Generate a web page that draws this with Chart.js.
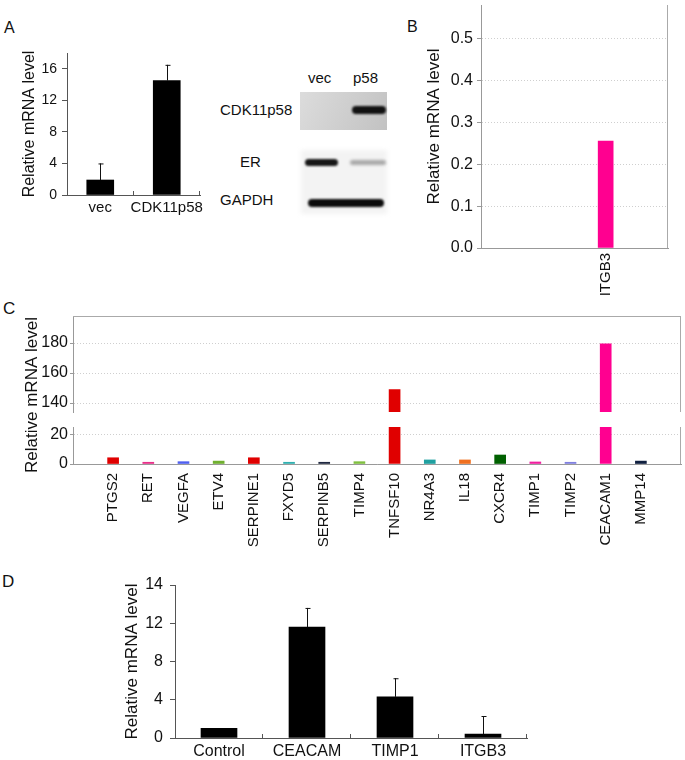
<!DOCTYPE html>
<html>
<head>
<meta charset="utf-8">
<script src="https://cdn.jsdelivr.net/npm/chart.js@4.4.1/dist/chart.umd.min.js"></script>
<style>
  body { margin: 0; background: #fff; }
  #page { position: relative; width: 685px; height: 760px; overflow: hidden;
          font-family: 'Liberation Sans', Arial, sans-serif; color: #111; }
  canvas, .t { position: absolute; }
  .t { font-size: 15px; line-height: 16px; white-space: nowrap; }
</style>
</head>
<body>
<div id="page">
  <div class="t" style="left:4px;top:20px;font-size:16px">A</div>
  <div class="t" style="left:407px;top:19px;font-size:16px">B</div>
  <div class="t" style="left:3px;top:301px;font-size:17px">C</div>
  <div class="t" style="left:2px;top:574px;font-size:17px">D</div>

  <!-- western blot labels -->
  <div class="t" style="left:308px;top:70px">vec</div>
  <div class="t" style="left:353px;top:70px">p58</div>
  <div class="t" style="left:220px;top:102px">CDK11p58</div>
  <div class="t" style="left:240px;top:154px">ER</div>
  <div class="t" style="left:220px;top:192px">GAPDH</div>

  <canvas id="chartA" width="225" height="190" style="left:0;top:40px"></canvas>
  <canvas id="blot" width="100" height="130" style="left:295px;top:88px"></canvas>
  <canvas id="chartB" width="285" height="300" style="left:400px;top:0"></canvas>
  <canvas id="chartC1" width="685" height="180" style="left:0;top:300px"></canvas>
  <canvas id="chartC2" width="685" height="140" style="left:0;top:420px"></canvas>
  <canvas id="chartD" width="460" height="190" style="left:90px;top:570px"></canvas>
</div>

<script>
// ---- data ----
// A: qPCR, vec vs CDK11p58
const A_LABELS = ['vec', 'CDK11p58'];
const A_VALUES = [1.9, 14.5];
const A_ERRORS = [2.1, 2.0];
const A_TICKS = [0, 4, 8, 12, 16];

// B: single gene
const B_LABEL = 'ITGB3';
const B_SLOT = 2;
const B_VALUE = 0.255;

// C: gene panel (broken axis)
const C_GENES = ['PTGS2', 'RET', 'VEGFA', 'ETV4', 'SERPINE1', 'FXYD5', 'SERPINB5', 'TIMP4',
                 'TNFSF10', 'NR4A3', 'IL18', 'CXCR4', 'TIMP1', 'TIMP2', 'CEACAM1', 'MMP14'];
const C_VALUES = [4.3, 1.2, 1.6, 2.0, 4.3, 1.2, 1.2, 1.6, 149, 2.8, 2.8, 6.2, 1.4, 1.2, 179.5, 2.0];
const C_COLORS = ['#e00000', '#e8308a', '#5060f0', '#70b030', '#e00000', '#30b0b0', '#202840', '#80c040',
                  '#e00000', '#20a0a0', '#f07020', '#006000', '#f020a0', '#8080e0', '#ff0090', '#102040'];
const C_UPPER_GRID = [140, 150, 160, 170, 180, 190];
const C_UPPER_TICKS = [140, 160, 180];
const C_LOWER_GRID = [0, 10, 20];
const C_LOWER_TICKS = [0, 20];

// D: validation
const D_LABELS = ['Control', 'CEACAM', 'TIMP1', 'ITGB3'];
const D_VALUES = [1.0, 11.6, 4.3, 0.4];
const D_ERRORS = [0, 2.0, 1.95, 1.9];
const D_TICK_VALUES = [0, 4, 8, 12, 16];
const D_TICK_LABELS = ['0', '4', '8', '12', '14'];

// ---- defaults ----
Chart.defaults.font.family = "'Liberation Sans', Arial, sans-serif";
Chart.defaults.color = '#111';
Chart.defaults.animation = false;
Chart.defaults.plugins.legend.display = false;
Chart.defaults.plugins.tooltip.enabled = false;

// fixed axis box, no label overhang padding
function fixW(w) {
  return s => { s.width = w; s.paddingTop = 0; s.paddingBottom = 0; };
}
function fixH(h) {
  return s => { s.height = h; s.paddingLeft = 0; s.paddingRight = 0; };
}
function tickList(vals) {
  return s => { s.ticks = vals.map(v => ({ value: v })); };
}

// ---- small plugins ----
const errorBars = {
  id: 'errorBars',
  afterDatasetsDraw(chart, args, opts) {
    const ctx = chart.ctx;
    const meta = chart.getDatasetMeta(0);
    const data = chart.data.datasets[0].data;
    const y = chart.scales.y;
    ctx.save();
    ctx.strokeStyle = '#111';
    ctx.lineWidth = 1;
    (opts.errors || []).forEach((e, i) => {
      if (!e) return;
      const bar = meta.data[i];
      const top = y.getPixelForValue(data[i] + e);
      const x = Math.round(bar.x) + 0.5;
      ctx.beginPath();
      ctx.moveTo(x, bar.y);
      ctx.lineTo(x, top);
      ctx.moveTo(x - 2, top + 0.5);
      ctx.lineTo(x + 3, top + 0.5);
      ctx.stroke();
    });
    ctx.restore();
  }
};

// little upward ticks between categories on the x axis
const innerTicks = {
  id: 'innerTicks',
  afterDraw(chart) {
    const x = chart.scales.x;
    const n = chart.data.labels.length;
    const ctx = chart.ctx;
    ctx.save();
    ctx.strokeStyle = '#555';
    ctx.beginPath();
    for (let i = 1; i <= n; i++) {
      const px = Math.round(x.left + i * x.width / n) - 0.5;
      ctx.moveTo(px, x.top);
      ctx.lineTo(px, x.top - 4);
    }
    ctx.stroke();
    ctx.restore();
  }
};

const frame = {
  id: 'frame',
  afterDraw(chart, args, o) {
    const a = chart.chartArea;
    const ctx = chart.ctx;
    ctx.save();
    ctx.strokeStyle = '#aaa';
    ctx.lineWidth = 1;
    ctx.beginPath();
    if (o.top) { ctx.moveTo(a.left, a.top + 0.5); ctx.lineTo(a.right, a.top + 0.5); }
    if (o.right) { ctx.moveTo(a.right - 0.5, a.top); ctx.lineTo(a.right - 0.5, a.bottom); }
    ctx.stroke();
    if (o.title) {
      ctx.fillStyle = '#111';
      ctx.font = "17px 'Liberation Sans', Arial, sans-serif";
      ctx.textAlign = 'center';
      ctx.textBaseline = 'middle';
      ctx.translate(o.title.x, o.title.y);
      ctx.rotate(-Math.PI / 2);
      ctx.fillText(o.title.text, 0, 0);
    }
    ctx.restore();
  }
};

// ---- A ----
new Chart(document.getElementById('chartA'), {
  type: 'bar',
  data: {
    labels: A_LABELS,
    datasets: [{ data: A_VALUES, backgroundColor: '#000', barThickness: 27 }]
  },
  options: {
    responsive: false,
    layout: { padding: { top: 13, right: 25, left: 0, bottom: 0 } },
    plugins: { errorBars: { errors: A_ERRORS } },
    scales: {
      x: {
        afterFit: fixH(35),
        grid: { display: false, drawTicks: false },
        border: { color: '#555' },
        ticks: { font: { size: 15 }, padding: 4, autoSkip: false, minRotation: 0, maxRotation: 0 }
      },
      y: {
        min: 0, max: 18,
        afterFit: fixW(67),
        grid: { drawOnChartArea: false, tickLength: 5, color: '#555' },
        border: { color: '#555' },
        ticks: {
          stepSize: 2, maxTicksLimit: 100, padding: 5, font: { size: 14 },
          callback: v => A_TICKS.includes(v) ? String(v) : ''
        },
        title: { display: true, text: 'Relative mRNA level', font: { size: 16 }, padding: { top: 20, bottom: 0 } }
      }
    }
  },
  plugins: [errorBars, innerTicks]
});

// ---- western blot (picture, not data) ----
const bl = document.getElementById('blot').getContext('2d');
function band(x, y, w, h, color, blur) {
  bl.save();
  bl.filter = 'blur(' + blur + 'px)';
  bl.fillStyle = color;
  bl.beginPath();
  bl.roundRect(x, y, w, h, h / 2);
  bl.fill();
  bl.restore();
}
bl.save();
bl.filter = 'blur(2px)';
bl.fillStyle = '#f3f3f3';
bl.fillRect(6, 62, 86, 64);
bl.restore();
const g = bl.createLinearGradient(5, 4, 92, 42);
g.addColorStop(0, '#dcdcdc');
g.addColorStop(1, '#c2c2c2');
bl.fillStyle = g;
bl.fillRect(5, 4, 87, 38);
band(57, 18, 34, 8, '#111', 1.2);
band(10, 71, 33, 7, '#161616', 1.3);
band(55, 72, 36, 5, '#a8a8a8', 1.8);
band(13, 111, 76, 8, '#0c0c0c', 1.1);

// ---- B ----
new Chart(document.getElementById('chartB'), {
  type: 'bar',
  data: {
    datasets: [{ data: [{ x: B_SLOT, y: B_VALUE }], backgroundColor: '#ff0090', barThickness: 15 }]
  },
  options: {
    responsive: false,
    layout: { padding: { top: 5, right: 17, left: 0, bottom: 0 } },
    plugins: { frame: { right: true } },
    scales: {
      x: {
        type: 'linear', min: 0, max: 3, offset: false,
        afterFit: fixH(52),
        afterBuildTicks: tickList([B_SLOT]),
        grid: { display: false, drawTicks: false },
        border: { color: '#999' },
        ticks: {
          autoSkip: false, minRotation: 90, maxRotation: 90, padding: 5, font: { size: 15 },
          callback: v => v === B_SLOT ? B_LABEL : ''
        }
      },
      y: {
        min: 0, max: 0.58,
        afterFit: fixW(81),
        afterBuildTicks: tickList([0, 0.05, 0.1, 0.15, 0.2, 0.25, 0.3, 0.35, 0.4, 0.45, 0.5, 0.55]),
        grid: { color: '#cfcfcf', tickColor: '#999', tickLength: 4 },
        border: { color: '#999', dash: [1, 2] },
        ticks: {
          padding: 4, font: { size: 16 },
          callback: v => {
            const k = Math.round(v * 100);
            return k % 10 === 0 ? (k / 100).toFixed(1) : '';
          }
        },
        title: { display: true, text: 'Relative mRNA level', font: { size: 17 }, padding: { top: 24, bottom: 0 } }
      }
    }
  },
  plugins: [frame]
});

// ---- C ----
const C_POINTS = C_GENES.map((g, i) => ({ x: i, y: C_VALUES[i] }));
const C_XMIN = -1.14, C_XMAX = 16.14;
const C_SLOTS = C_GENES.map((g, i) => i);

new Chart(document.getElementById('chartC1'), {
  type: 'bar',
  data: { datasets: [{ data: C_POINTS, backgroundColor: C_COLORS, barThickness: 11 }] },
  options: {
    responsive: false,
    layout: { padding: { top: 16, right: 4, left: 0, bottom: 68 } },
    plugins: { frame: { top: true, right: true, title: { text: 'Relative mRNA level', x: 32, y: 95 } } },
    scales: {
      x: { type: 'linear', display: false, offset: false, min: C_XMIN, max: C_XMAX },
      y: {
        min: 134, max: 198,
        afterFit: fixW(73),
        afterBuildTicks: tickList(C_UPPER_GRID),
        grid: { color: '#cfcfcf', tickColor: '#999', tickLength: 3 },
        border: { color: '#999', dash: [1, 2] },
        ticks: {
          padding: 2, font: { size: 16 },
          callback: v => C_UPPER_TICKS.includes(v) ? String(v) : ''
        }
      }
    }
  },
  plugins: [frame]
});

new Chart(document.getElementById('chartC2'), {
  type: 'bar',
  data: { datasets: [{ data: C_POINTS, backgroundColor: C_COLORS, barThickness: 11 }] },
  options: {
    responsive: false,
    layout: { padding: { top: 7, right: 4, left: 0, bottom: 0 } },
    plugins: { frame: { right: true } },
    scales: {
      x: {
        type: 'linear', min: C_XMIN, max: C_XMAX, offset: false,
        afterFit: fixH(96),
        afterBuildTicks: tickList(C_SLOTS),
        grid: { display: false, drawTicks: false },
        border: { color: '#999' },
        ticks: {
          autoSkip: false, minRotation: 90, maxRotation: 90,
          padding: 9, font: { size: 15 },
          callback: v => C_GENES[v]
        }
      },
      y: {
        min: 0, max: 25.5,
        afterFit: fixW(73),
        afterBuildTicks: tickList(C_LOWER_GRID),
        grid: { color: '#cfcfcf', tickColor: '#999', tickLength: 3 },
        border: { color: '#999', dash: [1, 2] },
        ticks: {
          padding: 2, font: { size: 16 },
          callback: v => C_LOWER_TICKS.includes(v) ? String(v) : ''
        }
      }
    }
  },
  plugins: [frame]
});

// ---- D ----
new Chart(document.getElementById('chartD'), {
  type: 'bar',
  data: {
    labels: D_LABELS,
    datasets: [{ data: D_VALUES, backgroundColor: '#000', barThickness: 36 }]
  },
  options: {
    responsive: false,
    layout: { padding: { top: 15, right: 23, left: 0, bottom: 0 } },
    plugins: { errorBars: { errors: D_ERRORS } },
    scales: {
      x: {
        afterFit: fixH(22),
        grid: { display: false, drawTicks: false },
        border: { color: '#555' },
        ticks: { font: { size: 16 }, padding: 4, autoSkip: false, maxRotation: 0 }
      },
      y: {
        min: 0, max: 16,
        afterFit: fixW(85),
        grid: { drawOnChartArea: false, tickLength: 5, color: '#555' },
        border: { color: '#555' },
        ticks: {
          stepSize: 2, maxTicksLimit: 100, padding: 7, font: { size: 16 },
          callback: v => {
            const k = D_TICK_VALUES.indexOf(v);
            return k >= 0 ? D_TICK_LABELS[k] : '';
          }
        },
        title: { display: true, text: 'Relative mRNA level', font: { size: 17 }, padding: { top: 32, bottom: 0 } }
      }
    }
  },
  plugins: [errorBars, innerTicks]
});
</script>
</body>
</html>
